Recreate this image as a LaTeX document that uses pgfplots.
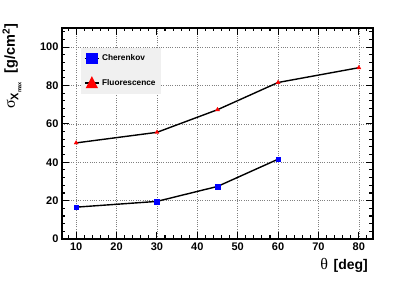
\documentclass[border=0pt]{standalone}
\usepackage{fontspec}
\setmainfont{Liberation Sans}
\newfontfamily\seriffont{Liberation Serif}
\usepackage{pgfplots}
\pgfplotsset{compat=1.18}
\begin{document}
\begin{tikzpicture}[x=1pt,y=1pt]
\useasboundingbox (0,0) rectangle (415,281);
\begin{axis}[
  scale only axis, width=311pt, height=211pt,
  at={(62pt,42pt)}, anchor=south west,
  xmin=6.5, xmax=83.5, ymin=0, ymax=110,
  xtick={10,20,...,80}, ytick={0,20,...,100},
  minor xtick={6,8,...,82}, minor ytick={4,8,...,108},
  major tick length=7pt, minor tick length=3.5pt,
  tick style={black, line width=1.1pt},
  axis line style={line width=1.8pt},
  grid=major, major grid style={dash pattern=on 1pt off 1.3pt, gray, line width=0.6pt},
  /pgf/number format/assume math mode=true,
  ticklabel style={font=\bfseries\fontsize{11}{12}\selectfont},
  xlabel={{\seriffont\fontsize{16}{16}\selectfont θ}\ \ {\bfseries\fontsize{14}{14}\selectfont [deg]}},
  xlabel style={at={(axis description cs:0.984,-0.123)}, anchor=east, inner sep=0pt},
  ylabel={{\seriffont\fontsize{16}{16}\selectfont σ}\raisebox{-3.5pt}{\bfseries\fontsize{11}{11}\selectfont X\raisebox{-3pt}{\fontsize{5.5}{5.5}\selectfont max}}\ \ \ {\bfseries\fontsize{14.5}{15}\selectfont [g/cm\textsuperscript{2}]}},
  ylabel style={at={(axis description cs:-0.161,1.02)}, anchor=east, rotate=0, inner sep=0pt},
  legend style={at={(axis description cs:0.061,0.9085)}, anchor=north west,
    fill=gray!12, draw=none, font=\bfseries\fontsize{8.3}{9}\selectfont,
    row sep=13pt, inner xsep=3pt, inner ysep=5pt},
  legend cell align=left,
]
\addplot[black, line width=1.4pt, mark=square*, mark size=2.3pt,
  mark options={draw=blue, fill=blue, line width=0.4pt},
  legend image code/.code={\path (0pt,0pt) -- (14.5pt,0pt);\fill[blue] (2pt,-4.8pt) rectangle (12pt,4.8pt);}]
  coordinates {(10,16.6) (30,19.6) (45,27.4) (60,41.6)};
\addlegendentry{Cherenkov}
\addplot[black, line width=1.4pt, mark=triangle*, mark size=2.3pt,
  mark options={draw=red, fill=red, line width=0.4pt},
  legend image code/.code={\path (0pt,0pt) -- (14.5pt,0pt);\fill[red] (2pt,-4.6pt) -- (12pt,-4.6pt) -- (7pt,5.2pt) -- cycle;}]
  coordinates {(10,50.1) (30,55.6) (45,67.4) (60,81.6) (80,89.3)};
\addlegendentry{Fluorescence}
\end{axis}
\end{tikzpicture}
\end{document}
